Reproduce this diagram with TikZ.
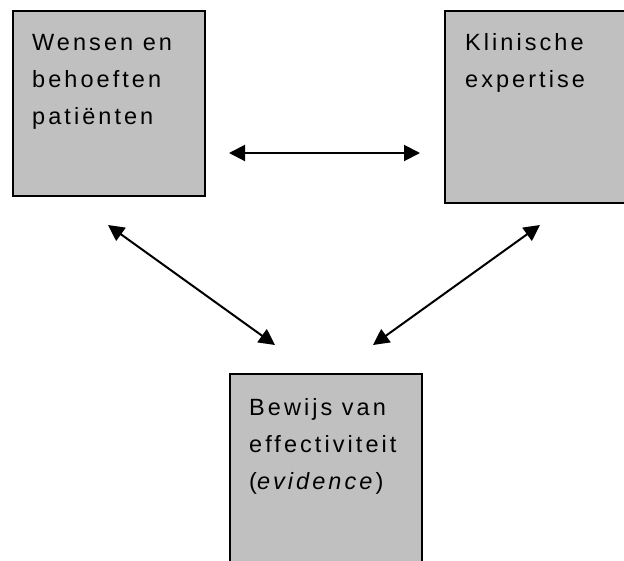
\documentclass[tikz,border=0pt]{standalone}
\usepackage{fontspec}
\setmainfont{Liberation Sans}[LetterSpace=13]
\usetikzlibrary{arrows.meta}
\tikzset{
  box/.style={draw=black, line width=2pt, fill=boxgray, rectangle, inner sep=0pt},
  lbl/.style={anchor=base west, align=left, inner sep=0pt, font=\fontsize{23.5}{37}\selectfont},
  conn/.style={line width=2pt, {Triangle[length=16pt,width=16pt]}-{Triangle[length=16pt,width=16pt]}}
}
\definecolor{boxgray}{HTML}{C0C0C0}
\begin{document}
\begin{tikzpicture}[x=1pt,y=-1pt]
\clip (0,0) rectangle (624,560);
\fill[white] (0,0) rectangle (624,560);
% boxes
\node[box, minimum width=192pt, minimum height=185pt, anchor=north west] (patient) at (12,9.5) {};
\node[box, minimum width=200pt, minimum height=192.5pt, anchor=north west] (expert) at (444,9.5) {};
\node[box, minimum width=192pt, minimum height=200pt, anchor=north west] (evid) at (229,373) {};
% texts (base anchor = baseline of the last line)
\node[lbl] (tpatient) at (32,124) {Wensen en\\behoeften\\patiënten};
\node[lbl] (texpert) at (465,87) {Klinische\\expertise};
\node[lbl] (tevid) at (249,489) {Bewijs van\\effectiviteit\\(\textit{evidence})};
% arrow end points
\coordinate (h1) at (229,153);
\coordinate (h2) at (420,153);
\coordinate (l1) at (108,225);
\coordinate (l2) at (275,345);
\coordinate (r1) at (540,225);
\coordinate (r2) at (373,345);
\draw[conn] (h1) -- (h2);
\draw[conn] (l1) -- (l2);
\draw[conn] (r1) -- (r2);
\end{tikzpicture}
\end{document}
